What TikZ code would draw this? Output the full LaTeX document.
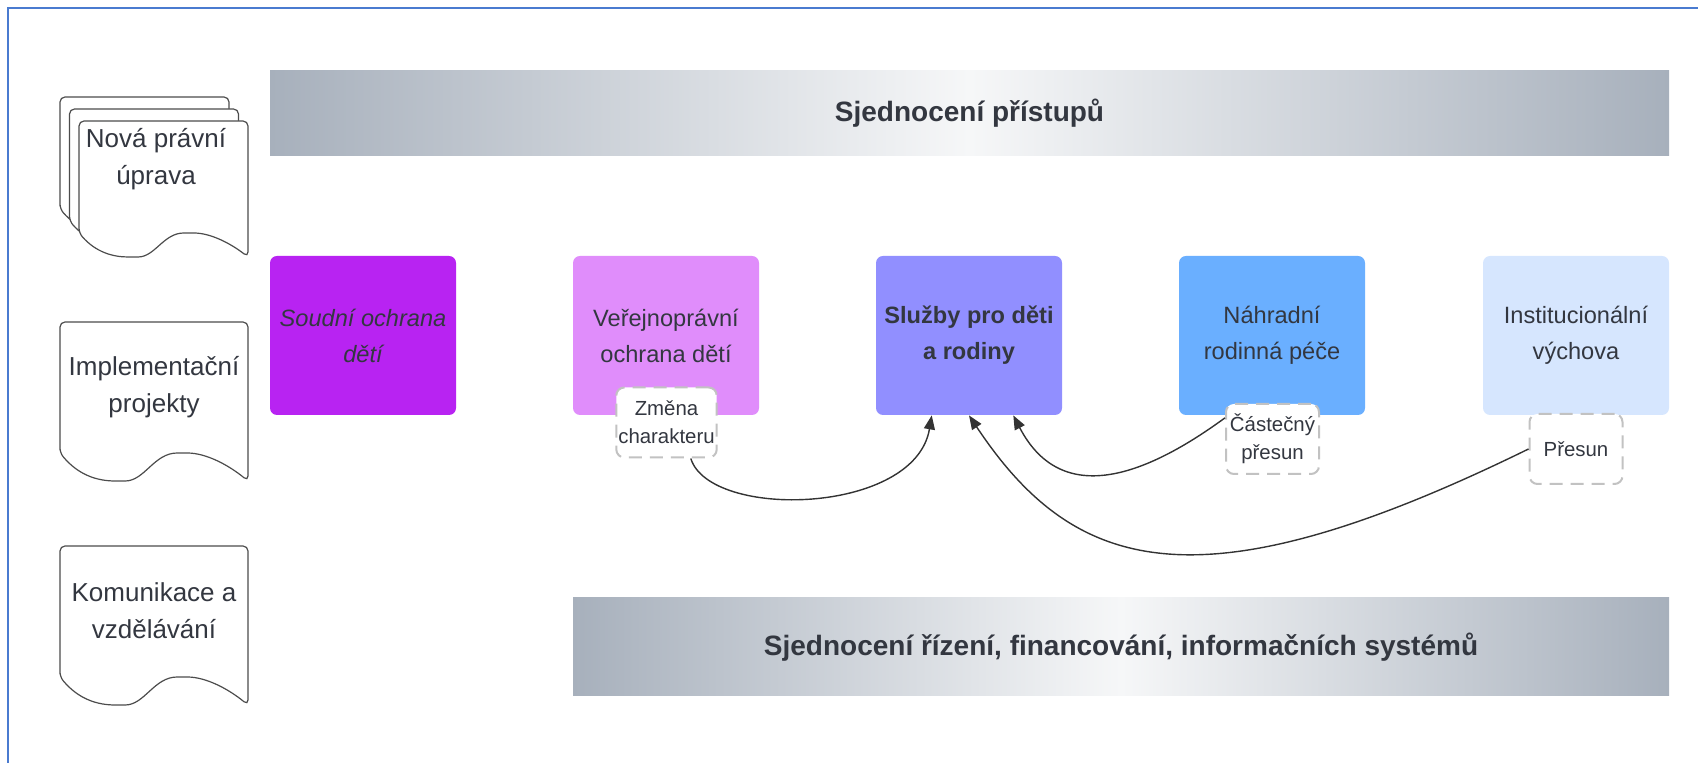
\documentclass[tikz,border=0pt]{standalone}
\usepackage{fontspec}
\setmainfont{Liberation Sans}
\usetikzlibrary{arrows.meta}

\definecolor{framecol}{HTML}{4A7BD0}
\definecolor{textgray}{HTML}{333740}
\definecolor{linegray}{HTML}{333333}
\definecolor{dashgray}{HTML}{C2C2C2}
\definecolor{barEdge}{HTML}{A7B0BC}
\definecolor{barMid}{HTML}{F6F7F8}
\definecolor{soudniCol}{HTML}{B823F2}
\definecolor{verejnaCol}{HTML}{E08DFB}
\definecolor{sluzbyCol}{HTML}{918FFF}
\definecolor{nahradniCol}{HTML}{6AAFFF}
\definecolor{ustavCol}{HTML}{D6E6FE}

% document sheet with a wavy lower edge: width, height, wave depth
\newcommand{\docpath}[3]{(0,#2) -- (0,0) -- (#1,0) -- (#1,{#2+#3})
    .. controls ({0.9*#1},{#2+0.45*#3}) and ({0.78*#1},#2) .. ({0.65*#1},#2)
    .. controls ({0.5*#1},#2) and ({0.45*#1},{#2+#3}) .. ({0.32*#1},{#2+#3})
    .. controls ({0.2*#1},{#2+#3}) and ({0.1*#1},{#2+0.8*#3}) .. (0,#2) -- cycle}

\begin{document}
\begin{tikzpicture}[x=0.5pt, y=-0.5pt,
    box/.style={rectangle, rounded corners=3.5pt, minimum width=93pt, minimum height=79.5pt,
        inner sep=2pt, align=center, text=textgray, font=\fontsize{11.8}{18}\selectfont},
    dashbox/.style={rectangle, rounded corners=4pt, draw=dashgray, fill=white, line width=1pt,
        dash pattern=on 6.5pt off 4pt, minimum width=46.5pt, minimum height=35pt,
        inner sep=1pt, align=center, text=textgray, font=\fontsize{10.2}{14}\selectfont},
    docline/.style={draw=black!70, fill=white, line width=0.6pt, rounded corners=2.5pt},
    doctext/.style={align=center, text=textgray, font=\fontsize{13}{18.5}\selectfont},
    bar/.style={rectangle, inner sep=0pt, left color=barEdge, right color=barEdge,
        middle color=barMid, text=textgray, font=\bfseries\fontsize{14}{16}\selectfont},
    arr/.style={draw=linegray, line width=0.7pt, -{Triangle[length=7pt, width=5.5pt]}}]

    \useasboundingbox (0,0) rectangle (1698,763);

    % outer frame
    \draw[framecol, line width=1pt] (8,763) -- (8,8) -- (1698,8);

    % BARS
    \node[bar, minimum width=699.5pt, minimum height=42.5pt] (pristupy) at (969.5,113.5) {Sjednocení přístupů};
    \node[bar, minimum width=548pt, minimum height=49pt] (rizeni) at (1121,647) {Sjednocení řízení, financování, informačních systémů};

    % DOCUMENTS
    \foreach \dx/\dy in {60/97, 69.5/109, 79/121} {
        \begin{scope}[shift={(\dx,\dy)}]
            \draw[docline] \docpath{169}{112}{24};
        \end{scope}
    }
    \node[doctext] (pravni) at (156,159) {Nová právní\\úprava};

    \begin{scope}[shift={(60,322)}]
        \draw[docline] \docpath{188}{131}{28};
    \end{scope}
    \node[doctext] (projekty) at (154,387) {Implementační\\projekty};

    \begin{scope}[shift={(60,546)}]
        \draw[docline] \docpath{188}{131}{28};
    \end{scope}
    \node[doctext] (komunikace) at (154,611) {Komunikace a\\vzdělávání};

    % SYSTEM BOXES
    \node[box, fill=soudniCol, font=\itshape\fontsize{11.8}{18}\selectfont] (soudni) at (363,335.5) {Soudní ochrana\\dětí};
    \node[box, fill=verejnaCol] (verejna) at (666,335.5) {Veřejnoprávní\\ochrana dětí};
    \node[box, fill=sluzbyCol, font=\bfseries\fontsize{11.8}{18}\selectfont] (sluzby) at (969,335.5) {Služby pro děti\\a rodiny};
    \node[box, fill=nahradniCol] (nahradni) at (1272,335.5) {Náhradní\\rodinná péče};
    \node[box, fill=ustavCol] (ustav) at (1576,335.5) {Institucionální\\výchova};

    % changes
    \node[dashbox] (zmena) at (666.5,422.5) {Změna\\charakteru};
    \node[dashbox] (castecny) at (1272.5,439) {Částečný\\přesun};
    \node[dashbox] (presun) at (1576,449) {Přesun};

    % CONNECTORS
    \draw[arr] (zmena.-56) .. controls (710,520) and (915,515) .. (sluzby.-115);
    \draw[arr] (presun.west) .. controls (1200,610) and (1075,575) .. (sluzby.south);
    \draw[arr] (castecny.156) .. controls (1140,480) and (1060,505) .. (sluzby.-61.6);
\end{tikzpicture}
\end{document}
